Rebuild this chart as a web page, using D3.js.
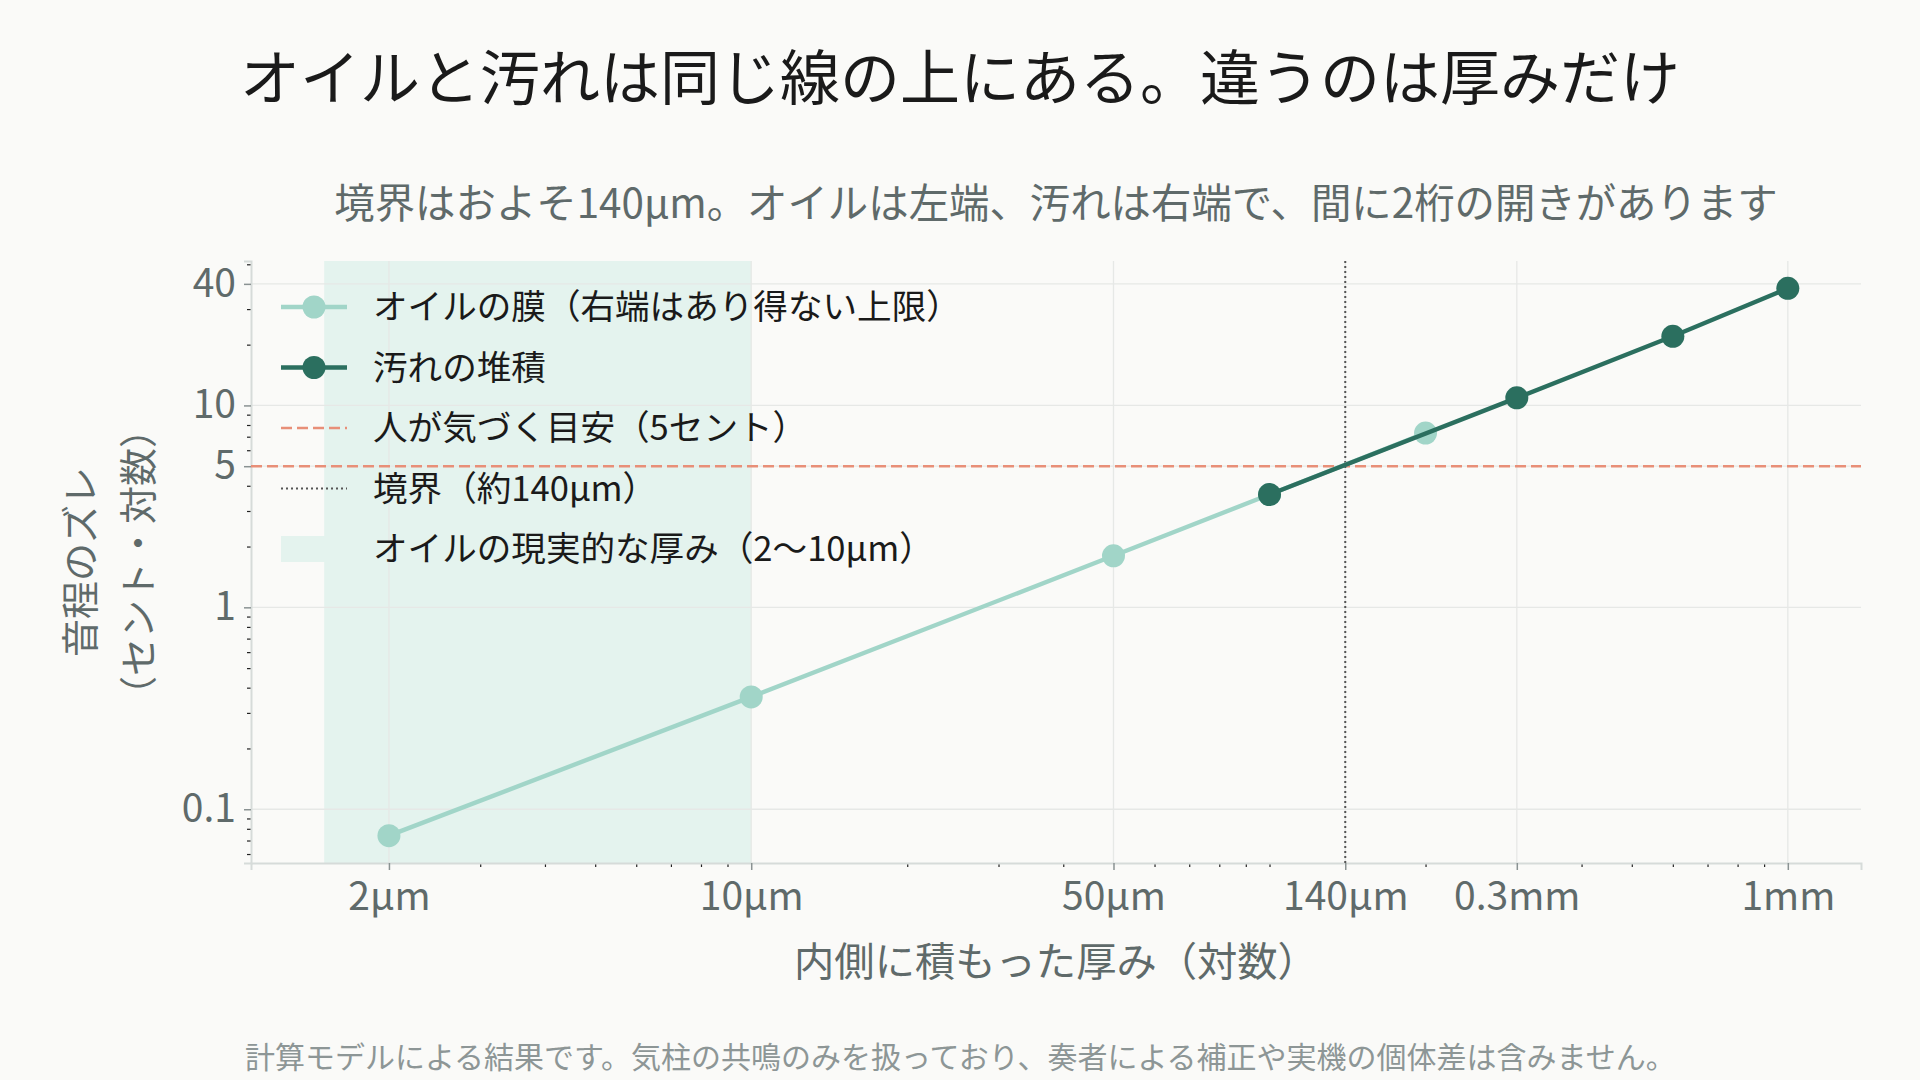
<html lang="ja">
<head>
    <meta charset="UTF-8">
    <title>オイルと汚れ</title>
    <script src="https://cdn.jsdelivr.net/npm/d3@7"></script>
    <style>
        body { margin: 0; background: #fafaf8; }
        text { font-family: "Noto Sans CJK JP", "Noto Sans", sans-serif; }
    </style>
</head>
<body>
    <script>
        // thickness in µm, pitch shift in cents
        var oilThickness = [2, 10, 50, 100, 200];
        var oilCents = [0.074, 0.36, 1.8, 3.62, 7.3];
        var dirtThickness = [100, 300, 600, 1000];
        var dirtCents = [3.62, 10.9, 22, 38];

        var noticeCents = 5;
        var boundary = 140;
        var oilRange = [1.5, 10];

        var xTicks = [2, 10, 50, 140, 300, 1000];
        var xTickLabels = ["2µm", "10µm", "50µm", "140µm", "0.3mm", "1mm"];
        var yTicks = [0.1, 1, 5, 10, 40];
        var yTickLabels = ["0.1", "1", "5", "10", "40"];

        var legendLabels = [
            "オイルの膜（右端はあり得ない上限）",
            "汚れの堆積",
            "人が気づく目安（5セント）",
            "境界（約140µm）",
            "オイルの現実的な厚み（2〜10µm）"
        ];

        // note: "top" is taken by window.top, so plot edges get a prefix
        var width = 1920,
            height = 1080,
            pLeft = 251, pRight = 1861, pTop = 261, pBottom = 863;

        var light = "#a1d5c8", dark = "#2b6f5f", red = "#e88f78",
            grey = "#5f6a6a";

        var oil = oilThickness.map((t, i) => ({t: t, c: oilCents[i]}));
        var dirt = dirtThickness.map((t, i) => ({t: t, c: dirtCents[i]}));

        // log domain with 5% padding, like matplotlib autoscale
        function padLog(lo, hi) {
            var a = Math.log10(lo), b = Math.log10(hi), p = (b - a) * 0.05;
            return [Math.pow(10, a - p), Math.pow(10, b + p)];
        }
        var allT = oilThickness.concat(dirtThickness, oilRange);
        var allC = oilCents.concat(dirtCents);

        var x = d3.scaleLog()
            .domain(padLog(d3.min(allT), d3.max(allT)))
            .range([pLeft, pRight]);
        var y = d3.scaleLog()
            .domain(padLog(d3.min(allC), d3.max(allC)))
            .range([pBottom, pTop]);

        var svg = d3.select("body").append("svg")
            .attr("width", width)
            .attr("height", height)
            .style("background", "#fafaf8");

        // shaded band
        svg.append("rect")
            .attr("x", x(oilRange[0]))
            .attr("y", pTop)
            .attr("width", x(oilRange[1]) - x(oilRange[0]))
            .attr("height", pBottom - pTop)
            .attr("fill", "#e4f3ee");

        // grid
        svg.append("g").selectAll("line")
            .data(xTicks).enter().append("line")
            .attr("x1", d => x(d)).attr("x2", d => x(d))
            .attr("y1", pTop).attr("y2", pBottom)
            .attr("stroke", "#e6e8e6").attr("stroke-width", 1.3);
        svg.append("g").selectAll("line")
            .data(yTicks).enter().append("line")
            .attr("x1", pLeft).attr("x2", pRight)
            .attr("y1", d => y(d)).attr("y2", d => y(d))
            .attr("stroke", "#e6e8e6").attr("stroke-width", 1.3);

        // minor ticks
        var xMinor = x.ticks().filter(d => xTicks.indexOf(d) < 0);
        var yMinor = y.ticks().filter(d => !yTicks.some(v => Math.abs(v - d) < 1e-9));

        var xAxisMinor = svg.append("g")
            .attr("transform", "translate(0," + pBottom + ")")
            .call(d3.axisBottom(x).tickValues(xMinor).tickSize(4).tickFormat(""));
        var yAxisMinor = svg.append("g")
            .attr("transform", "translate(" + pLeft + ",0)")
            .call(d3.axisLeft(y).tickValues(yMinor).tickSize(4).tickFormat(""));
        [xAxisMinor, yAxisMinor].forEach(function (g) {
            g.select(".domain").remove();
            g.selectAll("line").attr("stroke", "#222").attr("stroke-width", 1.2);
        });

        var xAxis = svg.append("g")
            .attr("transform", "translate(0," + pBottom + ")")
            .call(d3.axisBottom(x).tickValues(xTicks).tickSize(7).tickPadding(12)
                .tickFormat((d, i) => xTickLabels[i]));
        var yAxis = svg.append("g")
            .attr("transform", "translate(" + pLeft + ",0)")
            .call(d3.axisLeft(y).tickValues(yTicks).tickSize(7).tickPadding(8)
                .tickFormat((d, i) => yTickLabels[i]));
        [xAxis, yAxis].forEach(function (g) {
            g.select(".domain").attr("stroke", "#d6dbd9").attr("stroke-width", 2);
            g.selectAll(".tick line").attr("stroke", "#8a9292").attr("stroke-width", 1.5);
            g.selectAll("text")
                .attr("fill", grey)
                .style("font-size", "39px")
                .style("font-family", '"Noto Sans CJK JP", sans-serif');
        });
        xAxis.selectAll("text").attr("dy", "0.72em");

        // reference lines
        svg.append("line")
            .attr("x1", pLeft).attr("x2", pRight)
            .attr("y1", y(noticeCents)).attr("y2", y(noticeCents))
            .attr("stroke", red).attr("stroke-width", 2.6)
            .attr("stroke-dasharray", "11,5");
        svg.append("line")
            .attr("x1", x(boundary)).attr("x2", x(boundary))
            .attr("y1", pTop).attr("y2", pBottom)
            .attr("stroke", "#555").attr("stroke-width", 2)
            .attr("stroke-dasharray", "2,3");

        var line = d3.line().x(d => x(d.t)).y(d => y(d.c));

        function series(data, color) {
            svg.append("path")
                .datum(data)
                .attr("d", line)
                .attr("fill", "none")
                .attr("stroke", color)
                .attr("stroke-width", 4.4);
            svg.append("g").selectAll("circle")
                .data(data).enter().append("circle")
                .attr("cx", d => x(d.t))
                .attr("cy", d => y(d.c))
                .attr("r", 11.5)
                .attr("fill", color);
        }
        series(oil, light);
        series(dirt, dark);

        // legend
        var lg = svg.append("g").attr("transform", "translate(281,307)");
        var rowH = 60.5;
        legendLabels.forEach(function (lab, i) {
            var row = lg.append("g").attr("transform", "translate(0," + i * rowH + ")");
            if (i < 2) {
                var c = i == 0 ? light : dark;
                row.append("line").attr("x1", 0).attr("x2", 66)
                    .attr("stroke", c).attr("stroke-width", 4.4);
                row.append("circle").attr("cx", 33).attr("r", 11.5).attr("fill", c);
            } else if (i == 2) {
                row.append("line").attr("x1", 0).attr("x2", 66)
                    .attr("stroke", red).attr("stroke-width", 2.6)
                    .attr("stroke-dasharray", "11,5");
            } else if (i == 3) {
                row.append("line").attr("x1", 0).attr("x2", 66)
                    .attr("stroke", "#555").attr("stroke-width", 2)
                    .attr("stroke-dasharray", "2,3");
            } else {
                row.append("rect").attr("x", 0).attr("y", -13)
                    .attr("width", 66).attr("height", 26)
                    .attr("fill", "#e4f3ee");
            }
            row.append("text")
                .attr("x", 92)
                .attr("dy", "0.35em")
                .attr("fill", "#1a1a1a")
                .style("font-size", "34.6px")
                .text(lab);
        });

        // titles and labels
        svg.append("text")
            .attr("x", width / 2).attr("y", 73)
            .attr("text-anchor", "middle").attr("dominant-baseline", "central")
            .attr("fill", "#1a1a1a")
            .style("font-size", "60px")
            .text("オイルと汚れは同じ線の上にある。違うのは厚みだけ");

        svg.append("text")
            .attr("x", (pLeft + pRight) / 2).attr("y", 200)
            .attr("text-anchor", "middle").attr("dominant-baseline", "central")
            .attr("fill", grey)
            .style("font-size", "40.4px")
            .text("境界はおよそ140µm。オイルは左端、汚れは右端で、間に2桁の開きがあります");

        svg.append("text")
            .attr("x", (pLeft + pRight) / 2).attr("y", 958)
            .attr("text-anchor", "middle").attr("dominant-baseline", "central")
            .attr("fill", grey)
            .style("font-size", "40.3px")
            .text("内側に積もった厚み（対数）");

        var yl = svg.append("text")
            .attr("transform", "translate(0," + (pTop + pBottom) / 2 + ") rotate(-90)")
            .attr("text-anchor", "middle")
            .attr("fill", grey)
            .style("font-size", "38px");
        yl.append("tspan").attr("x", 0).attr("y", 77).attr("dominant-baseline", "central")
            .text("音程のズレ");
        yl.append("tspan").attr("x", 0).attr("y", 135).attr("dominant-baseline", "central")
            .text("（セント・対数）");

        svg.append("text")
            .attr("x", 245).attr("y", 1055)
            .attr("dominant-baseline", "central")
            .attr("fill", "#8d9696")
            .style("font-size", "30px")
            .text("計算モデルによる結果です。気柱の共鳴のみを扱っており、奏者による補正や実機の個体差は含みません。");
    </script>
</body>
</html>
